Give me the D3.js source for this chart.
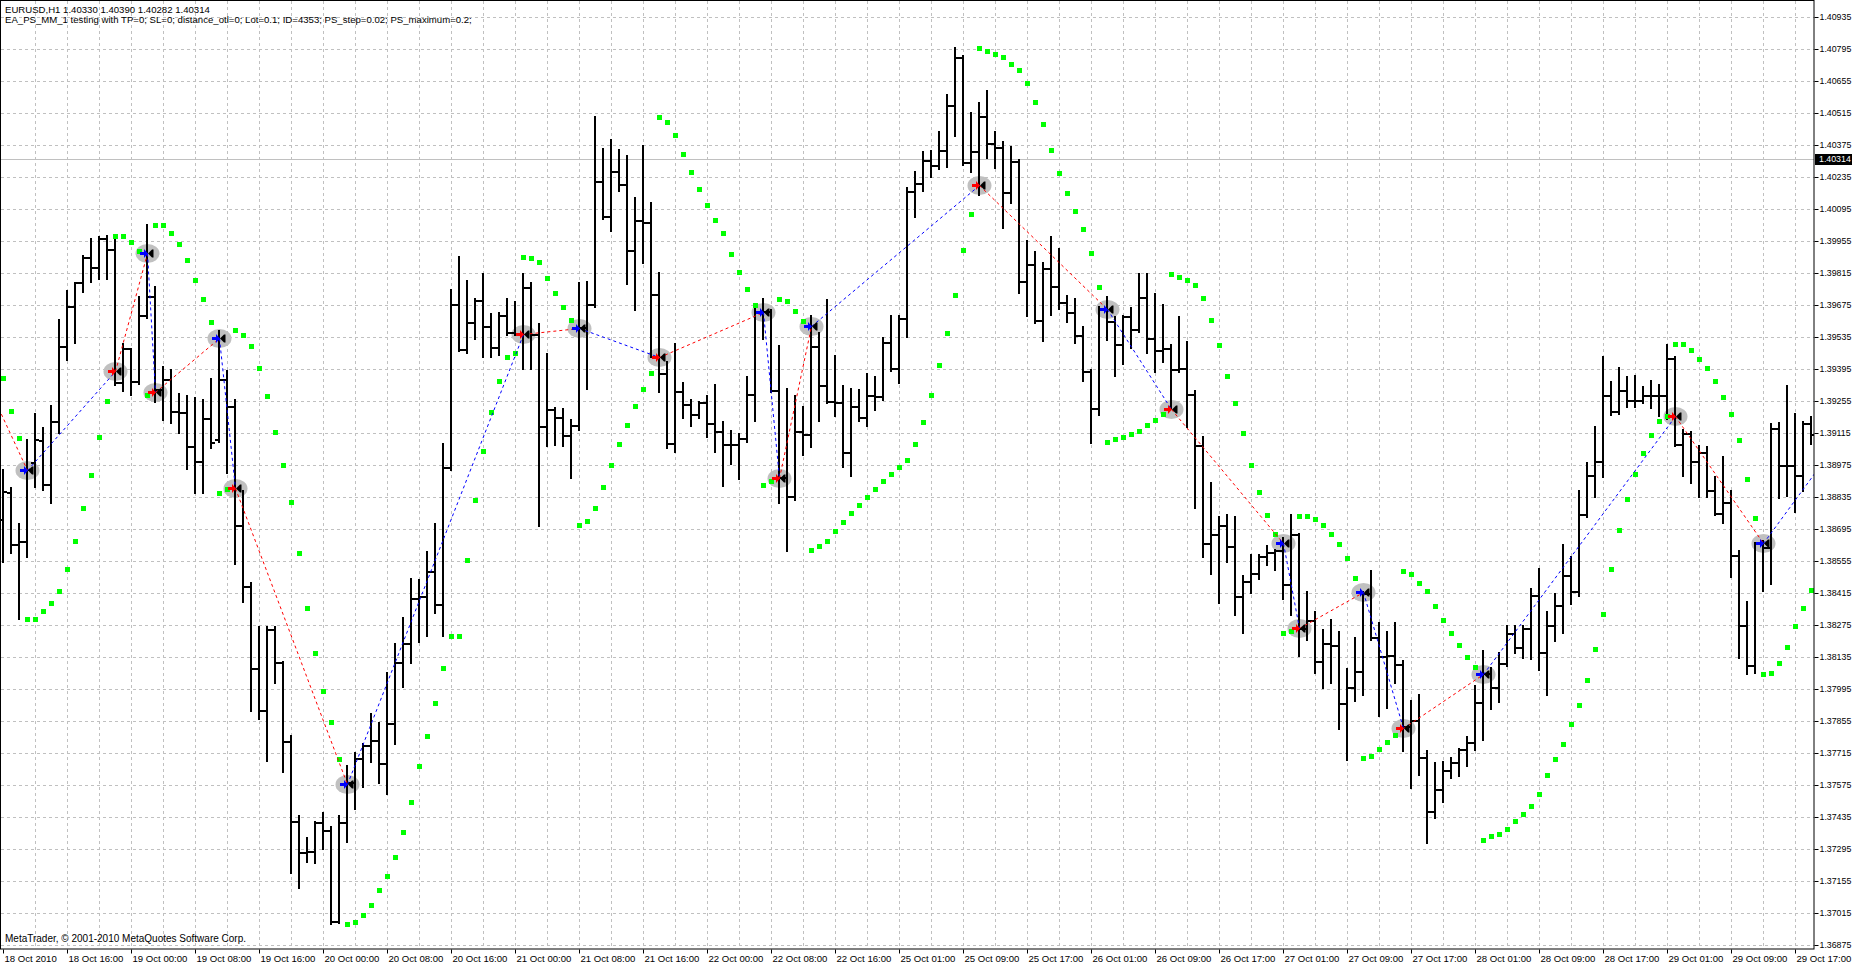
<!DOCTYPE html>
<html><head><meta charset="utf-8">
<script src="https://cdn.jsdelivr.net/npm/d3@7"></script>
<style>
html,body{margin:0;padding:0;background:#fff;overflow:hidden;}
svg{display:block;}
text{font-family:"Liberation Sans",Arial,sans-serif;font-size:9.6px;fill:#000;}
</style></head><body>
<svg id="chart" width="1852" height="965"></svg>
<script>
// ---------- data (EURUSD H1) ----------
const opens = [1.38734,1.38852,1.38625,1.38638,1.38983,1.39080,1.38887,1.39163,1.39491,1.39666,1.39771,1.39880,1.39836,1.39963,1.39915,1.39333,1.39482,1.39338,1.39627,1.39710,
1.39303,1.39347,1.39207,1.39202,1.39053,1.38988,1.39176,1.39084,1.39347,1.39228,1.38708,1.38441,1.38082,1.37898,1.38253,1.38108,1.37763,1.37413,1.37277,1.37281,
1.37408,1.37373,1.36975,1.37408,1.37583,1.37688,1.37745,1.37767,1.37667,1.37842,1.38108,1.38192,1.38388,1.38397,1.38507,1.38362,1.38962,1.39675,1.39478,1.39596,
1.39692,1.39578,1.39487,1.39627,1.39552,1.39548,1.39749,1.39543,1.39141,1.39215,1.39180,1.39102,1.39145,1.39574,1.39675,1.40213,1.40060,1.40257,1.40200,1.39911,
1.40042,1.40033,1.39718,1.39373,1.39067,1.39294,1.39237,1.39193,1.39246,1.39154,1.39119,1.39062,1.39062,1.39088,1.39281,1.39640,1.39644,1.39298,1.38918,1.38835,
1.39119,1.39106,1.39491,1.39320,1.39250,1.39246,1.39027,1.39228,1.39180,1.39277,1.39272,1.39508,1.39395,1.39613,1.40169,1.40204,1.40305,1.40283,1.40348,1.40545,
1.40755,1.40296,1.40344,1.40497,1.40379,1.40362,1.40165,1.40300,1.39775,1.39850,1.39605,1.39832,1.39753,1.39683,1.39640,1.39539,1.39381,1.39220,1.39657,1.39600,
1.39500,1.39622,1.39565,1.39705,1.39526,1.39473,1.39482,1.39390,1.39395,1.39281,1.39058,1.38629,1.38668,1.38708,1.38616,1.38397,1.38463,1.38498,1.38572,1.38590,
1.38598,1.38450,1.38668,1.38257,1.38292,1.38113,1.38192,1.38183,1.37929,1.37999,1.38069,1.38410,1.38218,1.38135,1.38139,1.38100,1.37828,1.37855,1.37693,1.37457,
1.37553,1.37636,1.37671,1.37728,1.37758,1.37933,1.38060,1.37999,1.38104,1.38235,1.38174,1.38257,1.38401,1.38152,1.38270,1.38358,1.38489,1.38419,1.38756,1.38927,
1.38988,1.39277,1.39207,1.39298,1.39255,1.39255,1.39277,1.39277,1.39277,1.39438,1.39062,1.39110,1.38988,1.39027,1.38861,1.38760,1.38808,1.38577,1.38270,1.38095,
1.38629,1.38612,1.39132,1.38970,1.38970,1.38927,1.39154];
const highs = [1.38953,1.38874,1.38717,1.39084,1.39198,1.39137,1.39233,1.39609,1.39736,1.39771,1.39889,1.39963,1.39972,1.39976,1.39963,1.39504,1.39482,1.39710,1.40025,1.39753,
1.39403,1.39390,1.39285,1.39277,1.39268,1.39259,1.39351,1.39561,1.39386,1.39259,1.38861,1.38458,1.38266,1.38266,1.38266,1.38113,1.37789,1.37439,1.37343,1.37413,
1.37452,1.37391,1.37439,1.37658,1.37715,1.37754,1.37885,1.37846,1.38065,1.38192,1.38305,1.38476,1.38472,1.38594,1.38717,1.39067,1.39740,1.39885,1.39780,1.39701,
1.39810,1.39635,1.39640,1.39701,1.39688,1.39810,1.39771,1.39592,1.39460,1.39224,1.39220,1.39172,1.39771,1.39775,1.40497,1.40357,1.40397,1.40353,1.40327,1.40143,
1.40370,1.40121,1.39815,1.39425,1.39504,1.39333,1.39259,1.39250,1.39277,1.39325,1.39163,1.39123,1.39110,1.39360,1.39679,1.39701,1.39653,1.39495,1.39307,1.39277,
1.39228,1.39627,1.39552,1.39697,1.39452,1.39320,1.39307,1.39303,1.39373,1.39360,1.39530,1.39627,1.39627,1.40187,1.40257,1.40344,1.40348,1.40432,1.40593,1.40799,
1.40764,1.40515,1.40558,1.40611,1.40432,1.40388,1.40366,1.40309,1.39955,1.39907,1.39858,1.39972,1.39920,1.39714,1.39701,1.39578,1.39390,1.39666,1.39710,1.39622,
1.39627,1.39662,1.39810,1.39810,1.39723,1.39675,1.39500,1.39622,1.39513,1.39298,1.39097,1.38896,1.38747,1.38756,1.38747,1.38489,1.38581,1.38581,1.38620,1.38603,
1.38655,1.38756,1.38673,1.38419,1.38332,1.38253,1.38297,1.38244,1.38082,1.38218,1.38419,1.38511,1.38283,1.38244,1.38283,1.38117,1.37942,1.37968,1.37723,1.37671,
1.37675,1.37693,1.37732,1.37785,1.38008,1.38161,1.38087,1.38152,1.38270,1.38270,1.38270,1.38432,1.38520,1.38332,1.38410,1.38625,1.38572,1.38861,1.38983,1.39141,
1.39447,1.39338,1.39399,1.39360,1.39364,1.39316,1.39342,1.39325,1.39500,1.39447,1.39128,1.39119,1.39058,1.39053,1.38922,1.39010,1.38861,1.38598,1.38375,1.38633,
1.38642,1.39154,1.39158,1.39320,1.39198,1.39163,1.39185];
const lows = [1.38550,1.38590,1.38301,1.38572,1.38878,1.38865,1.38808,1.39115,1.39434,1.39508,1.39731,1.39775,1.39788,1.39788,1.39325,1.39298,1.39281,1.39329,1.39618,1.39250,
1.39172,1.39158,1.39115,1.38957,1.38852,1.38852,1.39049,1.39075,1.38940,1.38542,1.38375,1.37898,1.37863,1.37680,1.38021,1.37631,1.37190,1.37124,1.37238,1.37233,
1.37295,1.36967,1.36971,1.37325,1.37470,1.37566,1.37675,1.37583,1.37535,1.37754,1.38003,1.38108,1.38200,1.38227,1.38327,1.38227,1.38953,1.39473,1.39465,1.39526,
1.39447,1.39447,1.39456,1.39543,1.39543,1.39395,1.39395,1.38708,1.39058,1.39062,1.39058,1.38918,1.39128,1.39307,1.39666,1.40051,1.39998,1.40173,1.39767,1.39653,
1.39858,1.39447,1.39294,1.39049,1.39032,1.39180,1.39145,1.39180,1.39097,1.39032,1.38883,1.38979,1.38913,1.39075,1.39167,1.39526,1.39294,1.38808,1.38598,1.38822,
1.39018,1.39053,1.39167,1.39246,1.39189,1.38966,1.38927,1.39167,1.39145,1.39215,1.39259,1.39386,1.39333,1.39535,1.40060,1.40173,1.40235,1.40270,1.40278,1.40414,
1.40287,1.40257,1.40156,1.40318,1.40274,1.40012,1.40121,1.39727,1.39627,1.39596,1.39517,1.39631,1.39657,1.39600,1.39508,1.39342,1.39071,1.39193,1.39521,1.39364,
1.39417,1.39487,1.39557,1.39465,1.39381,1.39425,1.39224,1.39381,1.39141,1.38786,1.38572,1.38498,1.38371,1.38550,1.38318,1.38240,1.38415,1.38476,1.38537,1.38515,
1.38388,1.38318,1.38139,1.38209,1.38065,1.37999,1.38021,1.37820,1.37684,1.37942,1.37968,1.38209,1.37877,1.37912,1.38021,1.37723,1.37561,1.37618,1.37321,1.37430,
1.37500,1.37605,1.37614,1.37658,1.37728,1.37772,1.37907,1.37938,1.38095,1.38152,1.38130,1.38126,1.38078,1.37968,1.38205,1.38240,1.38367,1.38401,1.38747,1.38835,
1.38922,1.39193,1.39198,1.39228,1.39228,1.39246,1.39224,1.39189,1.39176,1.39058,1.38927,1.38898,1.38835,1.38835,1.38756,1.38721,1.38485,1.38130,1.38060,1.38065,
1.38423,1.38454,1.38830,1.38839,1.38769,1.38861,1.39067];
const closes = [1.38857,1.38625,1.38638,1.38953,1.39084,1.38887,1.39163,1.39491,1.39666,1.39771,1.39880,1.39836,1.39963,1.39915,1.39333,1.39482,1.39338,1.39627,1.39710,1.39303,
1.39347,1.39207,1.39202,1.39053,1.38988,1.39176,1.39071,1.39347,1.39228,1.38708,1.38441,1.38082,1.37898,1.38253,1.38108,1.37763,1.37413,1.37277,1.37281,1.37408,
1.37373,1.36975,1.37408,1.37583,1.37688,1.37745,1.37767,1.37667,1.37842,1.38108,1.38192,1.38388,1.38397,1.38507,1.38362,1.38962,1.39675,1.39478,1.39596,1.39692,
1.39578,1.39487,1.39627,1.39552,1.39548,1.39749,1.39543,1.39141,1.39215,1.39180,1.39102,1.39145,1.39574,1.39675,1.40213,1.40060,1.40257,1.40200,1.39911,1.40042,
1.40033,1.39718,1.39373,1.39067,1.39294,1.39237,1.39193,1.39246,1.39154,1.39119,1.39062,1.39062,1.39088,1.39281,1.39640,1.39644,1.39298,1.38918,1.38835,1.39119,
1.39106,1.39491,1.39320,1.39250,1.39246,1.39027,1.39228,1.39180,1.39277,1.39272,1.39508,1.39395,1.39613,1.40169,1.40204,1.40305,1.40283,1.40348,1.40545,1.40755,
1.40296,1.40344,1.40497,1.40379,1.40362,1.40165,1.40300,1.39775,1.39850,1.39605,1.39832,1.39753,1.39683,1.39640,1.39539,1.39381,1.39220,1.39657,1.39600,1.39500,
1.39622,1.39565,1.39705,1.39526,1.39473,1.39482,1.39390,1.39395,1.39281,1.39058,1.38629,1.38668,1.38708,1.38616,1.38397,1.38463,1.38498,1.38572,1.38590,1.38598,
1.38450,1.38668,1.38257,1.38292,1.38113,1.38192,1.38183,1.37929,1.37999,1.38069,1.38410,1.38218,1.38135,1.38139,1.38100,1.37828,1.37855,1.37693,1.37457,1.37553,
1.37636,1.37671,1.37728,1.37758,1.37933,1.38060,1.37999,1.38104,1.38235,1.38174,1.38257,1.38401,1.38152,1.38270,1.38358,1.38489,1.38419,1.38756,1.38927,1.38988,
1.39277,1.39207,1.39298,1.39255,1.39255,1.39277,1.39277,1.39277,1.39438,1.39062,1.39110,1.38988,1.39027,1.38861,1.38760,1.38808,1.38577,1.38270,1.38095,1.38629,
1.38612,1.39132,1.38970,1.38970,1.38927,1.39154,1.39106];
// Parabolic SAR (step 0.02, max 0.2), one value per bar
const sar = [1.39355,1.39211,1.39093,1.38301,1.38301,1.38336,1.38371,1.38423,1.38520,1.38642,1.38786,1.38931,1.39097,1.39255,1.39976,1.39976,1.39950,1.39911,1.39281,1.40025,
1.40025,1.39990,1.39942,1.39872,1.39784,1.39701,1.39600,1.38852,1.38870,1.39565,1.39543,1.39495,1.39399,1.39277,1.39119,1.38975,1.38813,1.38590,1.38349,1.38152,
1.37986,1.37850,1.37688,1.36967,1.36975,1.37006,1.37050,1.37115,1.37177,1.37260,1.37369,1.37500,1.37658,1.37789,1.37933,1.38087,1.38227,1.38227,1.38559,1.38822,
1.39036,1.39207,1.39342,1.39447,1.39465,1.39885,1.39880,1.39863,1.39793,1.39727,1.39666,1.39609,1.38712,1.38730,1.38785,1.38878,1.38975,1.39067,1.39150,1.39233,
1.39307,1.39377,1.40497,1.40475,1.40418,1.40335,1.40257,1.40182,1.40112,1.40047,1.39990,1.39898,1.39819,1.39745,1.39675,1.38887,1.38905,1.39701,1.39692,1.39648,
1.39605,1.38603,1.38620,1.38642,1.38686,1.38725,1.38765,1.38800,1.38835,1.38870,1.38905,1.38935,1.38966,1.38997,1.39067,1.39163,1.39281,1.39412,1.39552,1.39718,
1.39915,1.40073,1.40799,1.40786,1.40773,1.40760,1.40729,1.40703,1.40646,1.40563,1.40467,1.40353,1.40252,1.40165,1.40086,1.40007,1.39902,1.39753,1.39075,1.39088,
1.39097,1.39110,1.39123,1.39150,1.39172,1.39198,1.39810,1.39797,1.39784,1.39762,1.39705,1.39609,1.39500,1.39364,1.39246,1.39115,1.38975,1.38857,1.38756,1.38673,
1.38240,1.38248,1.38751,1.38751,1.38738,1.38712,1.38673,1.38629,1.38568,1.38480,1.37693,1.37702,1.37732,1.37763,1.37793,1.38511,1.38498,1.38458,1.38423,1.38358,
1.38297,1.38240,1.38187,1.38135,1.38091,1.37334,1.37352,1.37360,1.37382,1.37417,1.37448,1.37483,1.37535,1.37618,1.37688,1.37754,1.37842,1.37925,1.38034,1.38170,
1.38323,1.38520,1.38690,1.38826,1.38935,1.39027,1.39106,1.39167,1.39189,1.39504,1.39504,1.39478,1.39438,1.39399,1.39342,1.39272,1.39198,1.39084,1.38913,1.38743,
1.38060,1.38065,1.38108,1.38178,1.38270,1.38349,1.38428];
// trades: reversal points (bar index, price, direction of the position opened there)
const tradeBars   = [-5, 3, 14, 18, 19, 27, 29, 43, 65, 72, 82, 95, 97, 101, 122, 138, 146, 160, 162, 170, 175, 185, 209, 220, 232];
const tradePrices = [1.39556,1.38953,1.39386,1.39902,1.39294,1.39530,1.38874,1.37579,1.39548,1.39574,1.39447,1.39644,1.38918,1.39583,1.40200,1.39657,1.39220,1.38633,1.38261,1.38419,1.37824,1.38060,1.39189,1.38633,1.39206];
const tradeTypes  = ["sell","buy","sell","buy","sell","buy","sell","buy","sell","buy","sell","buy","sell","buy","sell","buy","sell","buy","sell","buy","sell","buy","sell","buy","none"];
const priceTicks = [1.36875,1.37015,1.37155,1.37295,1.37435,1.37575,1.37715,1.37855,1.37995,1.38135,1.38275,1.38415,1.38555,1.38695,1.38835,1.38975,1.39115,1.39255,1.39395,1.39535,1.39675,1.39815,1.39955,1.40095,1.40235,1.40375,1.40515,1.40655,1.40795,1.40935];
const timeLabels = ["18 Oct 2010","18 Oct 16:00","19 Oct 00:00","19 Oct 08:00","19 Oct 16:00","20 Oct 00:00","20 Oct 08:00","20 Oct 16:00","21 Oct 00:00","21 Oct 08:00","21 Oct 16:00","22 Oct 00:00","22 Oct 08:00","22 Oct 16:00","25 Oct 01:00","25 Oct 09:00","25 Oct 17:00","26 Oct 01:00","26 Oct 09:00","26 Oct 17:00","27 Oct 01:00","27 Oct 09:00","27 Oct 17:00","28 Oct 01:00","28 Oct 09:00","28 Oct 17:00","29 Oct 01:00","29 Oct 09:00","29 Oct 17:00"];
const currentPrice = 1.40314;
const headerLine1 = "EURUSD,H1  1.40330 1.40390 1.40282 1.40314";
const headerLine2 = "EA_PS_MM_1 testing with TP=0; SL=0; distance_otl=0; Lot=0.1; ID=4353; PS_step=0.02; PS_maximum=0.2;";
const footer = "MetaTrader, \u00a9 2001-2010 MetaQuotes Software Corp.";

// ---------- layout ----------
const plotR = 1814, plotB = 949;
const svg = d3.select('#chart');
const x = d3.scaleLinear().domain([0, 226]).range([3, 1811]);
const y = d3.scaleLinear().domain([1.36875, 1.40935]).range([945, 17]);
const ry = p => Math.round(y(p));
const rx = i => Math.round(x(i));

svg.append('defs').append('clipPath').attr('id','clip')
  .append('rect').attr('x',1).attr('y',1).attr('width',plotR-1).attr('height',plotB-1);

// grid
const grid = svg.append('g').attr('stroke','#c0c0c0').attr('stroke-dasharray','3,3').attr('stroke-width',1);
priceTicks.forEach(p => grid.append('line').attr('x1',1).attr('x2',plotR).attr('y1',ry(p)+0.5).attr('y2',ry(p)+0.5));
d3.range(4, 227, 4).forEach(i => grid.append('line').attr('x1',rx(i)+0.5).attr('x2',rx(i)+0.5).attr('y1',1).attr('y2',plotB));

// current price line
svg.append('line').attr('x1',1).attr('x2',plotR).attr('y1',ry(currentPrice)+0.5).attr('y2',ry(currentPrice)+0.5)
  .attr('stroke','#c0c0c0').attr('stroke-width',1);

const plot = svg.append('g').attr('clip-path','url(#clip)');

// trade markers background ellipses
const marks = d3.range(1, tradeBars.length - 1);
plot.append('g').selectAll('ellipse').data(marks).join('ellipse')
  .attr('cx', i => rx(tradeBars[i]) + 0.5).attr('cy', i => ry(tradePrices[i]) + 0.5)
  .attr('rx', 12).attr('ry', 9.5).attr('fill', '#c0c0c0');

// OHLC bars
const bars = plot.append('g').attr('stroke','#000').attr('stroke-width',2).attr('fill','none');
bars.selectAll('path').data(d3.range(opens.length)).join('path')
  .attr('d', i => {
    const xi = rx(i);
    return `M${xi},${ry(highs[i])-1}V${ry(lows[i])+1}` +
           `M${xi-4},${ry(opens[i])}H${xi}` +
           `M${xi},${ry(closes[i])}H${xi+4}`;
  });

// Parabolic SAR dots
plot.append('g').selectAll('rect').data(sar).join('rect')
  .attr('x', (d,i) => rx(i) - 2).attr('y', d => ry(d) - 2)
  .attr('width', 5).attr('height', 5).attr('fill', '#00ff00');

// trade lines
const tcol = t => t === 'buy' ? '#0000ff' : '#ff0000';
plot.append('g').selectAll('line').data(d3.range(tradeBars.length - 1)).join('line')
  .attr('x1', i => rx(tradeBars[i]) + 0.5).attr('y1', i => ry(tradePrices[i]) + 0.5)
  .attr('x2', i => rx(tradeBars[i+1]) + 0.5).attr('y2', i => ry(tradePrices[i+1]) + 0.5)
  .attr('stroke', i => tcol(tradeTypes[i])).attr('stroke-width', 1).attr('stroke-dasharray', '3,3');

// arrows
const arr = plot.append('g');
marks.forEach(i => {
  const cx = rx(tradeBars[i]), cy = ry(tradePrices[i]) + 0.5;
  arr.append('path')
    .attr('d', `M${cx-7},${cy-1.5}H${cx-3}V${cy-4.5}L${cx+1},${cy}L${cx-3},${cy+4.5}V${cy+1.5}H${cx-7}Z`)
    .attr('fill', tcol(tradeTypes[i]));
  arr.append('path')
    .attr('d', `M${cx+1},${cy}L${cx+5},${cy-4}V${cy+4}Z M${cx+5},${cy-4}h1.5v8h-1.5Z`)
    .attr('fill', '#000');
});

// frame
svg.append('rect').attr('x',0.5).attr('y',0.5).attr('width',plotR-0.5).attr('height',plotB-0.5)
  .attr('fill','none').attr('stroke','#000').attr('stroke-width',1);

// y axis
const yAxis = svg.append('g').attr('transform',`translate(${plotR+0.5},0)`)
  .call(d3.axisRight(y).tickValues(priceTicks).tickFormat(d3.format('.5f')).tickSize(4).tickPadding(1));
yAxis.select('.domain').remove();
yAxis.selectAll('text').style('font-family','"Liberation Sans",Arial,sans-serif').style('font-size','8.8px').attr('fill','#000');
yAxis.selectAll('line').attr('stroke','#000');

// current price label
const cy0 = ry(currentPrice);
svg.append('rect').attr('x', plotR+1).attr('y', cy0-5).attr('width', 1852-plotR-1).attr('height', 11).attr('fill','#000');
svg.append('text').attr('x', plotR+5).attr('y', cy0+0.5).attr('dy','0.32em').style('font-size','8.8px').text(d3.format('.5f')(currentPrice)).style('fill','#fff');

// x axis
const labelBars = d3.range(0, 227, 8);
const xAxis = svg.append('g').attr('transform',`translate(0,${plotB+0.5})`)
  .call(d3.axisBottom(x).tickValues(labelBars).tickFormat((d,i) => timeLabels[i]).tickSize(4).tickPadding(2));
xAxis.select('.domain').remove();
xAxis.selectAll('text').attr('text-anchor','start').attr('dx', 1)
  .style('font-family','"Liberation Sans",Arial,sans-serif').style('font-size','9.6px').attr('fill','#000');
xAxis.selectAll('line').attr('stroke','#000');

// texts
svg.append('text').attr('x',5).attr('y',13).text(headerLine1);
svg.append('text').attr('x',5).attr('y',23).text(headerLine2);
svg.append('text').attr('x',5).attr('y',942).style('font-size','10px').text(footer);
</script>
</body></html>
